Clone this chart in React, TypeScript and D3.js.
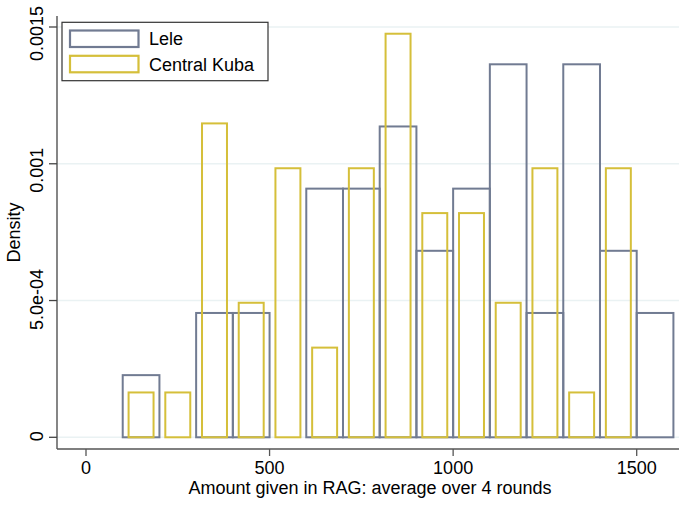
import React from "react";
import * as d3 from "d3";

const binStarts = [100, 200, 300, 400, 500, 600, 700, 800, 900, 1000, 1100, 1200, 1300, 1400, 1500];
const leleCounts = [1, 0, 2, 2, 0, 4, 4, 5, 3, 4, 6, 2, 6, 3, 2];
const kubaCounts = [1, 1, 7, 3, 6, 2, 6, 9, 5, 5, 3, 6, 1, 6, 0];
const leleN = 44;
const kubaN = 61;
const binWidth = 100;
const xTicks = [0, 500, 1000, 1500];
const yTicks = [0, 0.0005, 0.001, 0.0015];
const yTickLabels = ["0", "5.0e-04", "0.001", "0.0015"];
const seriesNames = ["Lele", "Central Kuba"];
const colors = ["#717b92", "#d5bf3a"];

const W = 679;
const H = 505;
const FONT = "'Liberation Sans', Arial, Helvetica, sans-serif";
const FS = 18;
const yLabelShift = [-1, -1, 6.5, 6.5];

export default function App() {
  const x = d3.scaleLinear().domain([0, 1500]).range([86, 636.7]);
  const y = d3.scaleLinear().domain([0, 0.0015]).range([437.3, 27]);
  const axisLeft = 57;
  const axisBottom = 449;
  const axisTop = 16;

  const lele = binStarts.map((s, i) => ({ s, d: leleCounts[i] / (leleN * binWidth) })).filter((b) => b.d > 0);
  const kuba = binStarts.map((s, i) => ({ s, d: kubaCounts[i] / (kubaN * binWidth) })).filter((b) => b.d > 0);
  const kubaW = 68;

  return (
    <svg width={W} height={H} style={{ position: "absolute", left: 0, top: 0, background: "#fff" }} fontFamily={FONT}>
      {yTicks.map((t) => (
        <line key={"g" + t} x1={axisLeft} x2={W} y1={y(t)} y2={y(t)} stroke="#eaf2f3" strokeWidth={1.5} />
      ))}
      {lele.map((b) => (
        <rect key={"l" + b.s} x={x(b.s)} y={y(b.d)} width={x(b.s + binWidth) - x(b.s)} height={y(0) - y(b.d)}
          fill="none" stroke={colors[0]} strokeWidth={2} />
      ))}
      {kuba.map((b) => {
        const c = b.s + binWidth / 2;
        return (
          <rect key={"k" + b.s} x={x(c - kubaW / 2)} y={y(b.d)} width={x(c + kubaW / 2) - x(c - kubaW / 2)}
            height={y(0) - y(b.d)} fill="none" stroke={colors[1]} strokeWidth={2} />
        );
      })}
      <line x1={axisLeft} x2={axisLeft} y1={axisTop} y2={axisBottom} stroke="#444" strokeWidth={1.3} />
      <line x1={axisLeft} x2={W} y1={axisBottom} y2={axisBottom} stroke="#555" strokeWidth={1.3} />
      {yTicks.map((t, i) => (
        <g key={"yt" + t}>
          <line x1={axisLeft - 8} x2={axisLeft} y1={y(t)} y2={y(t)} stroke="#444" strokeWidth={1.3} />
          <text transform={`translate(43,${y(t) + yLabelShift[i]}) rotate(-90)`} textAnchor="middle" fontSize={FS} fill="#000">
            {yTickLabels[i]}
          </text>
        </g>
      ))}
      {xTicks.map((t) => (
        <g key={"xt" + t}>
          <line x1={x(t)} x2={x(t)} y1={axisBottom} y2={axisBottom + 7} stroke="#555" strokeWidth={1.3} />
          <text x={x(t)} y={474} textAnchor="middle" fontSize={FS} fill="#000">{t}</text>
        </g>
      ))}
      <text x={(axisLeft + W) / 2 + 2} y={494} textAnchor="middle" fontSize={FS} fill="#000">
        Amount given in RAG: average over 4 rounds
      </text>
      <text transform={`translate(20,${(axisTop + axisBottom) / 2}) rotate(-90)`} textAnchor="middle" fontSize={FS} fill="#000">
        Density
      </text>
      <rect x={62} y={22.3} width={206} height={58.4} fill="#fff" stroke="#333" strokeWidth={1.2} />
      {seriesNames.map((n, i) => (
        <g key={n}>
          <rect x={70} y={30.5 + i * 25.3} width={68.5} height={16.5} fill="none" stroke={colors[i]} strokeWidth={2.2} />
          <text x={149} y={45 + i * 26} fontSize={FS} fill="#000">{n}</text>
        </g>
      ))}
    </svg>
  );
}
